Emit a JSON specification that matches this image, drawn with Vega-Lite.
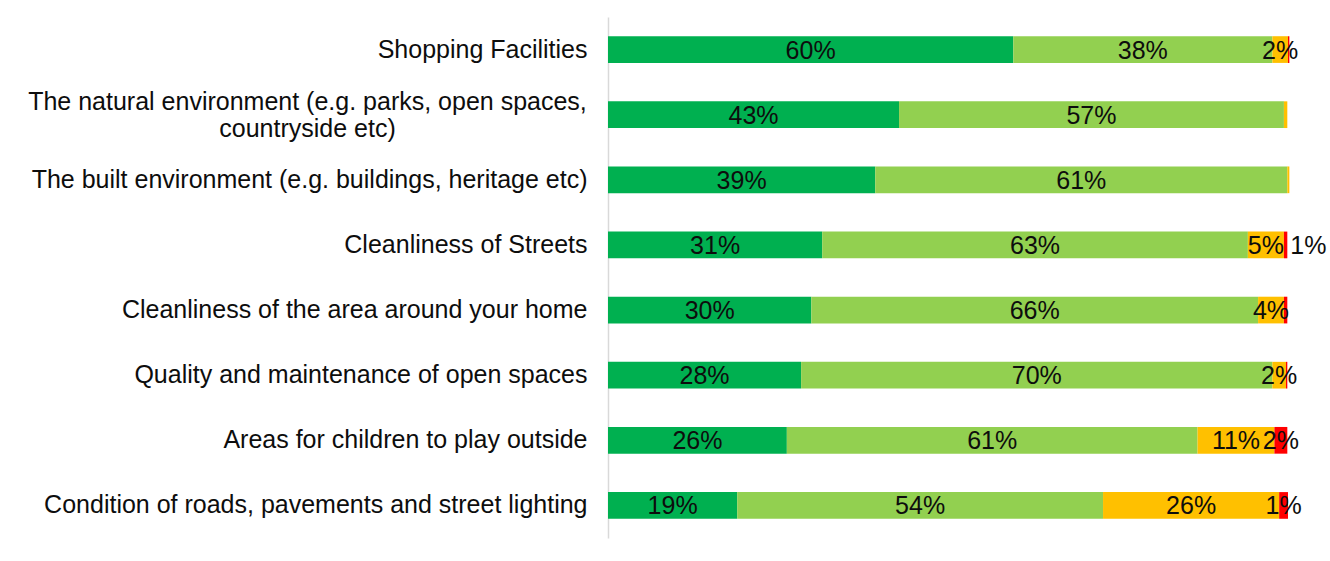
{
  "$schema": "https://vega.github.io/schema/vega-lite/v6.json",
  "autosize": {"type": "none"},
  "padding": {"left": 608, "top": 17, "right": 42, "bottom": 23},
  "width": 680,
  "height": 521,
  "background": "white",
  "config": {
    "view": {"stroke": null},
    "font": "Liberation Sans"
  },
  "data": {
    "values": [
      {"item": "Shopping Facilities", "rating": "Very satisfied", "k": 1, "pct": 59.6, "label": "60%"},
      {"item": "Shopping Facilities", "rating": "Fairly satisfied", "k": 2, "pct": 38.1, "label": "38%"},
      {"item": "Shopping Facilities", "rating": "Fairly dissatisfied", "k": 3, "pct": 2.3, "label": "2%"},
      {"item": "Shopping Facilities", "rating": "Very dissatisfied", "k": 4, "pct": 0.2, "label": ""},
      {"item": "The natural environment (e.g. parks, open spaces, countryside etc)", "rating": "Very satisfied", "k": 1, "pct": 42.8, "label": "43%"},
      {"item": "The natural environment (e.g. parks, open spaces, countryside etc)", "rating": "Fairly satisfied", "k": 2, "pct": 56.6, "label": "57%"},
      {"item": "The natural environment (e.g. parks, open spaces, countryside etc)", "rating": "Fairly dissatisfied", "k": 3, "pct": 0.5, "label": ""},
      {"item": "The natural environment (e.g. parks, open spaces, countryside etc)", "rating": "Very dissatisfied", "k": 4, "pct": 0, "label": ""},
      {"item": "The built environment (e.g. buildings, heritage etc)", "rating": "Very satisfied", "k": 1, "pct": 39.3, "label": "39%"},
      {"item": "The built environment (e.g. buildings, heritage etc)", "rating": "Fairly satisfied", "k": 2, "pct": 60.6, "label": "61%"},
      {"item": "The built environment (e.g. buildings, heritage etc)", "rating": "Fairly dissatisfied", "k": 3, "pct": 0.3, "label": ""},
      {"item": "The built environment (e.g. buildings, heritage etc)", "rating": "Very dissatisfied", "k": 4, "pct": 0, "label": ""},
      {"item": "Cleanliness of Streets", "rating": "Very satisfied", "k": 1, "pct": 31.5, "label": "31%"},
      {"item": "Cleanliness of Streets", "rating": "Fairly satisfied", "k": 2, "pct": 62.6, "label": "63%"},
      {"item": "Cleanliness of Streets", "rating": "Fairly dissatisfied", "k": 3, "pct": 5.3, "label": "5%"},
      {"item": "Cleanliness of Streets", "rating": "Very dissatisfied", "k": 4, "pct": 0.5, "label": "1%"},
      {"item": "Cleanliness of the area around your home", "rating": "Very satisfied", "k": 1, "pct": 29.9, "label": "30%"},
      {"item": "Cleanliness of the area around your home", "rating": "Fairly satisfied", "k": 2, "pct": 65.7, "label": "66%"},
      {"item": "Cleanliness of the area around your home", "rating": "Fairly dissatisfied", "k": 3, "pct": 3.8, "label": "4%"},
      {"item": "Cleanliness of the area around your home", "rating": "Very dissatisfied", "k": 4, "pct": 0.5, "label": ""},
      {"item": "Quality and maintenance of open spaces", "rating": "Very satisfied", "k": 1, "pct": 28.4, "label": "28%"},
      {"item": "Quality and maintenance of open spaces", "rating": "Fairly satisfied", "k": 2, "pct": 69.3, "label": "70%"},
      {"item": "Quality and maintenance of open spaces", "rating": "Fairly dissatisfied", "k": 3, "pct": 2.0, "label": "2%"},
      {"item": "Quality and maintenance of open spaces", "rating": "Very dissatisfied", "k": 4, "pct": 0.2, "label": ""},
      {"item": "Areas for children to play outside", "rating": "Very satisfied", "k": 1, "pct": 26.3, "label": "26%"},
      {"item": "Areas for children to play outside", "rating": "Fairly satisfied", "k": 2, "pct": 60.4, "label": "61%"},
      {"item": "Areas for children to play outside", "rating": "Fairly dissatisfied", "k": 3, "pct": 11.3, "label": "11%"},
      {"item": "Areas for children to play outside", "rating": "Very dissatisfied", "k": 4, "pct": 1.9, "label": "2%"},
      {"item": "Condition of roads, pavements and street lighting", "rating": "Very satisfied", "k": 1, "pct": 19.0, "label": "19%"},
      {"item": "Condition of roads, pavements and street lighting", "rating": "Fairly satisfied", "k": 2, "pct": 53.8, "label": "54%"},
      {"item": "Condition of roads, pavements and street lighting", "rating": "Fairly dissatisfied", "k": 3, "pct": 25.9, "label": "26%"},
      {"item": "Condition of roads, pavements and street lighting", "rating": "Very dissatisfied", "k": 4, "pct": 1.3, "label": "1%"}
    ]
  },
  "encoding": {
    "y": {
      "field": "item",
      "type": "nominal",
      "sort": null,
      "scale": {"paddingInner": 0.59, "paddingOuter": 0.295},
      "axis": {
        "title": null,
        "ticks": false,
        "domainColor": "#D9D9D9",
        "domainWidth": 1.5,
        "labelFont": "Liberation Sans",
        "labelFontSize": 25,
        "labelColor": "#0D0D0D",
        "labelAlign": {
          "condition": {"test": "datum.value == 'The natural environment (e.g. parks, open spaces, countryside etc)'", "value": "center"},
          "value": "right"
        },
        "labelPadding": {
          "condition": {"test": "datum.value == 'The natural environment (e.g. parks, open spaces, countryside etc)'", "value": 301},
          "value": 21
        },
        "labelOffset": {
          "condition": {"test": "datum.value == 'The natural environment (e.g. parks, open spaces, countryside etc)'", "value": -13},
          "value": 0
        },
        "labelLimit": 0,
        "labelLineHeight": 27,
        "labelExpr": "datum.value == 'The natural environment (e.g. parks, open spaces, countryside etc)' ? ['The natural environment (e.g. parks, open spaces,', 'countryside etc)'] : datum.value"
      }
    }
  },
  "layer": [
    {
      "mark": {"type": "bar"},
      "encoding": {
        "x": {
          "field": "pct",
          "type": "quantitative",
          "stack": "zero",
          "scale": {"domain": [0, 100], "nice": false},
          "axis": null
        },
        "color": {
          "field": "rating",
          "type": "nominal",
          "scale": {
            "domain": ["Very satisfied", "Fairly satisfied", "Fairly dissatisfied", "Very dissatisfied"],
            "range": ["#00B050", "#92D050", "#FFC000", "#FF0000"]
          },
          "legend": null
        },
        "order": {"field": "k", "type": "quantitative"}
      }
    },
    {
      "transform": [
        {"stack": "pct", "groupby": ["item"], "sort": [{"field": "k"}], "as": ["x0", "x1"]},
        {"calculate": "(datum.x0 + datum.x1) / 2", "as": "xm"},
        {"filter": "!(datum.item == 'Cleanliness of Streets' && datum.k == 4)"}
      ],
      "mark": {"type": "text", "font": "Liberation Sans", "fontSize": 25, "color": "#0D0D0D", "align": "center", "baseline": "middle", "dy": 1},
      "encoding": {
        "x": {"field": "xm", "type": "quantitative"},
        "text": {"field": "label"}
      }
    },
    {
      "transform": [
        {"stack": "pct", "groupby": ["item"], "sort": [{"field": "k"}], "as": ["x0", "x1"]},
        {"filter": "datum.item == 'Cleanliness of Streets' && datum.k == 4"}
      ],
      "mark": {"type": "text", "font": "Liberation Sans", "fontSize": 25, "color": "#0D0D0D", "align": "left", "baseline": "middle", "dx": 3, "dy": 1},
      "encoding": {
        "x": {"field": "x1", "type": "quantitative"},
        "text": {"field": "label"}
      }
    }
  ]
}
